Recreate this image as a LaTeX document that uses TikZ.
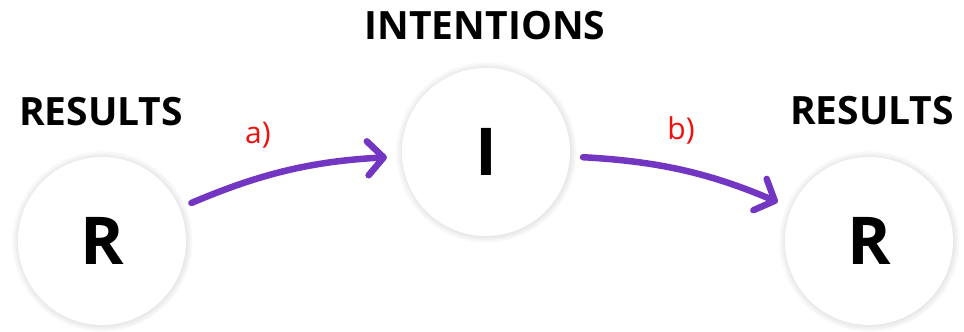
\documentclass[tikz,border=0pt]{standalone}
\usepackage{fontspec}
\setmainfont{Open Sans}
\usepackage{xcolor}
\usetikzlibrary{arrows.meta,shadows}
\definecolor{cFlow}{HTML}{7236C2}
\definecolor{cTag}{HTML}{F01010}

\begin{document}
\begin{tikzpicture}[x=1pt, y=1pt,
  state/.style={circle, fill=white, minimum size=168pt, inner sep=0pt,
                font=\fontsize{66}{66}\selectfont\bfseries,
                circular drop shadow={shadow xshift=0pt, shadow yshift=0pt,
                                      shadow scale=1.08, opacity=.35}},
  title/.style={font=\fontsize{39}{39}\selectfont\bfseries},
  tag/.style={text=cTag, font=\fontsize{30}{30}\selectfont},
  ar/.style={-{Straight Barb[length=16pt, width=34pt, line cap=round, line join=round]},
             line width=6.5pt, line cap=round, cFlow, bend left=10,
             shorten <=13pt, shorten >=15pt}]

  \useasboundingbox[fill=white] (0,0) rectangle (964,-332);

  % the three states
  \node[state] (resL)   at (102,-241) {R};
  \node[state] (intent) at (486,-152) {I};
  \node[state] (resR)   at (869,-241) {R};

  % headings
  \node[title] (tResL)   at (101,-112) {RESULTS};
  \node[title] (tIntent) at (485,-26)  {INTENTIONS};
  \node[title] (tResR)   at (872,-111) {RESULTS};

  % steps
  \node[tag] (tagA) at (258,-135) {a)};
  \node[tag] (tagB) at (681,-130) {b)};

  \draw[ar] (resL) to (intent);
  \draw[ar] (intent) to (resR);
\end{tikzpicture}
\end{document}
